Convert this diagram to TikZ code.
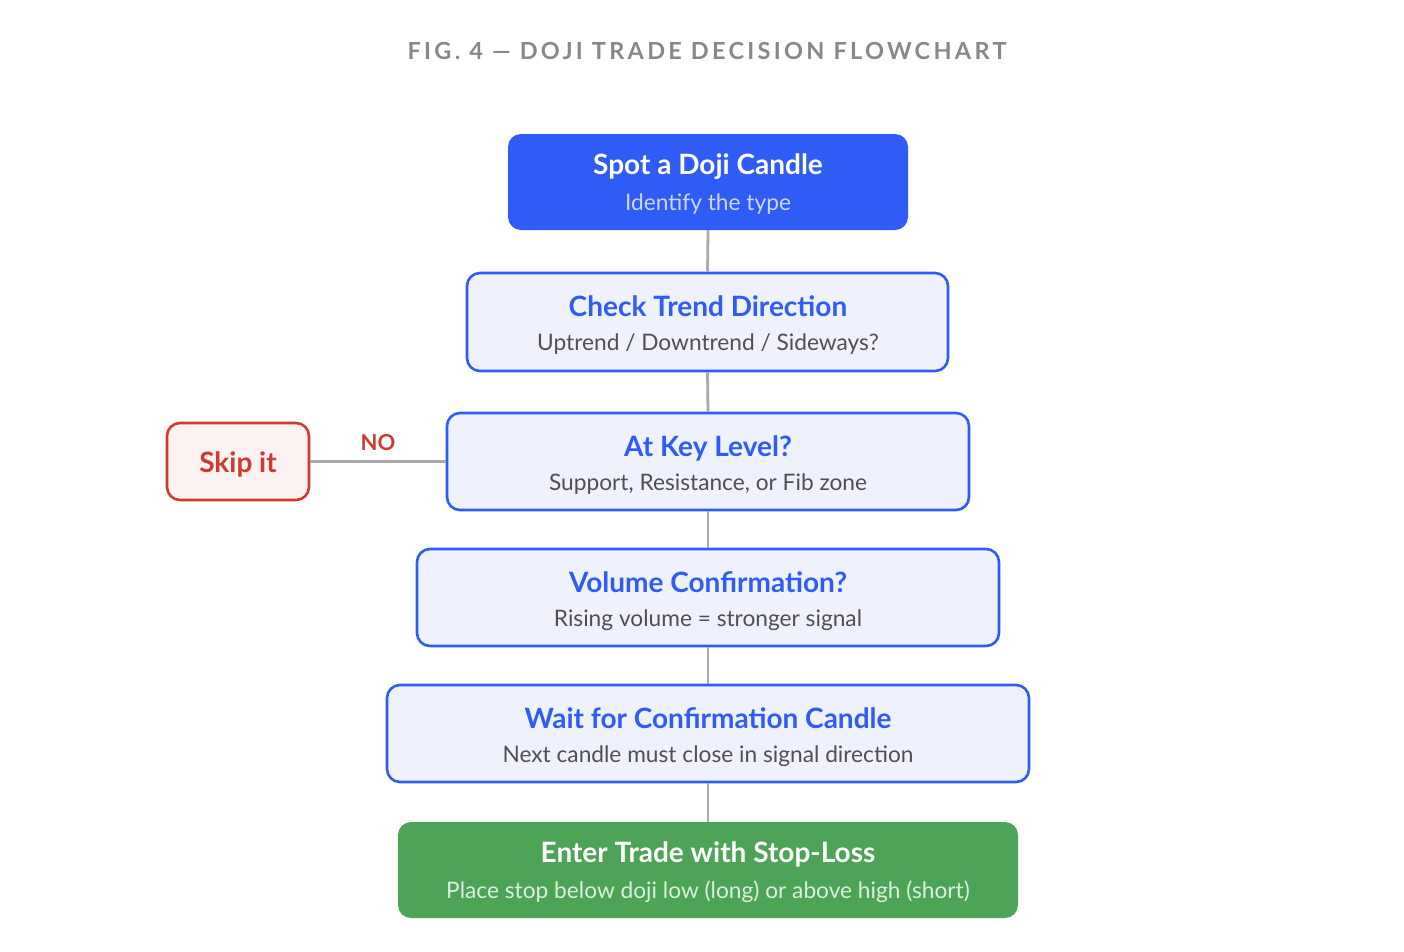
\documentclass[tikz,border=0pt]{standalone}
\usepackage{fontspec}
\setmainfont{Lato}
\definecolor{mainblue}{HTML}{2F5BF6}
\definecolor{lightfill}{HTML}{EFF2FD}
\definecolor{subgray}{HTML}{505050}
\definecolor{linegray}{HTML}{AAAAAA}
\definecolor{titlegray}{HTML}{888888}
\definecolor{skipred}{HTML}{CF3A30}
\definecolor{skipfill}{HTML}{FDF2F2}
\definecolor{entergreen}{HTML}{4DA457}
\definecolor{bluesub}{HTML}{CCD7FF}
\definecolor{greensub}{HTML}{DCEFDC}
\tikzset{
  stepbox/.style={draw=mainblue, line width=2.6pt, fill=lightfill, rounded corners=13pt},
  solidbox/.style={rounded corners=13pt},
  headtext/.style={anchor=base, font=\fontsize{28}{32}\selectfont\bfseries},
  subtext/.style={anchor=base, font=\fontsize{22.7}{26}\selectfont},
  link/.style={draw=linegray, line width=2.8pt},
}
\begin{document}
\begin{tikzpicture}[x=1pt,y=-1pt]
\useasboundingbox (0,0) rectangle (1404,951);
\fill[white] (0,0) rectangle (1404,951);
\node[anchor=base, text=titlegray, font=\fontsize{23.5}{27}\selectfont\bfseries\addfontfeature{LetterSpace=14}] (title) at (707,59.5) {FIG. 4 — DOJI TRADE DECISION FLOWCHART};

% boxes
\path[fill=mainblue, solidbox] (508,134) rectangle (908,230);
\node[inner sep=0, minimum width=400, minimum height=96] (spot) at (708,182) {};
\node[stepbox, inner sep=0, minimum width=481, minimum height=98] (check) at (707.5,322) {};
\node[stepbox, inner sep=0, minimum width=522, minimum height=97] (key) at (708,461.5) {};
\node[stepbox, inner sep=0, minimum width=582, minimum height=97] (vol) at (708,597.5) {};
\node[stepbox, inner sep=0, minimum width=642, minimum height=97] (wait) at (708,733.5) {};
\path[fill=entergreen, solidbox] (398,822) rectangle (1018,918);
\node[inner sep=0, minimum width=620, minimum height=96] (enter) at (708,870) {};
\node[draw=skipred, line width=2.6pt, fill=skipfill, rounded corners=13pt, inner sep=0, minimum width=142, minimum height=77] (skip) at (238,461.5) {};

% connectors
\draw[link] (spot.south) -- (check.north);
\draw[link] (check.south) -- (key.north);
\draw[link] (key.south) -- (vol.north);
\draw[link] (vol.south) -- (wait.north);
\draw[link] (wait.south) -- (enter.north);
\draw[link] (key.west) -- (skip.east);

% texts
\node[headtext, text=white] (spott) at (708,174.5) {Spot a Doji Candle};
\node[subtext, text=bluesub] (spots) at (708,210.5) {Identify the type};
\node[headtext, text=mainblue] (checkt) at (708,316.5) {Check Trend Direction};
\node[subtext, text=subgray] (checks) at (708,350) {Uptrend / Downtrend / Sideways?};
\node[headtext, text=mainblue] (keyt) at (708,456.5) {At Key Level?};
\node[subtext, text=subgray] (keys) at (708,490) {Support, Resistance, or Fib zone};
\node[headtext, text=mainblue] (volt) at (708,592.5) {Volume Confirmation?};
\node[subtext, text=subgray] (vols) at (708,626) {Rising volume = stronger signal};
\node[headtext, text=mainblue] (waitt) at (708,728.5) {Wait for Confirmation Candle};
\node[subtext, text=subgray] (waits) at (708,762) {Next candle must close in signal direction};
\node[headtext, text=white] (entert) at (708,862.5) {Enter Trade with Stop-Loss};
\node[subtext, text=greensub] (enters) at (708,898) {Place stop below doji low (long) or above high (short)};
\node[headtext, text=skipred] (skipt) at (238,472.5) {Skip it};
\node[anchor=base, text=skipred, font=\fontsize{22}{26}\selectfont\bfseries] (no) at (378,450.5) {NO};
\end{tikzpicture}
\end{document}
